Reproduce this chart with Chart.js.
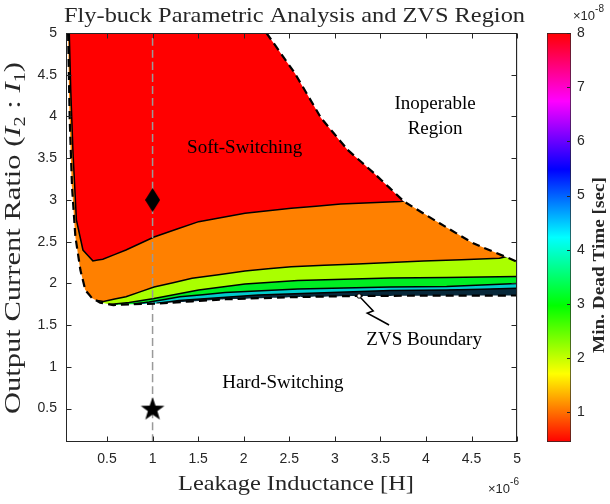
<!DOCTYPE html>
<html>
<head>
<meta charset="utf-8">
<script src="https://cdn.jsdelivr.net/npm/chart.js@4.4.1/dist/chart.umd.min.js"></script>
<style>
  body { margin: 0; background: #fff; }
  #wrap { position: relative; width: 610px; height: 504px; }
  #main { position: absolute; left: 0; top: 0; }
  #bar { position: absolute; left: 530px; top: 0; }
</style>
</head>
<body>
<div id="wrap">
  <canvas id="main" width="530" height="504"></canvas>
  <canvas id="bar" width="80" height="504"></canvas>
</div>
<script>
// x in units of 1e-6 H, y = I2:I1, colour scale in units of 1e-8 s
const xTicks = [0.5, 1, 1.5, 2, 2.5, 3, 3.5, 4, 4.5, 5];
const yTicks = [0.5, 1, 1.5, 2, 2.5, 3, 3.5, 4, 4.5, 5];
const cbTicks = [1, 2, 3, 4, 5, 6, 7, 8];
const cbMin = 0.45, cbMax = 8;

// ZVS boundary (left + bottom dashed curve)
const zvsX = [0.073, 0.091, 0.116, 0.153, 0.208, 0.262, 0.334, 0.425, 0.57, 0.75, 1.07, 1.8, 2.52, 3.25, 3.97, 5.0];
const zvsY = [5.0, 3.96, 3.16, 2.56, 2.16, 1.92, 1.825, 1.77, 1.74, 1.75, 1.76, 1.81, 1.835, 1.85, 1.853, 1.855];
// inoperable boundary (upper right dashed curve)
const inopX = [2.25, 2.56, 2.85, 3.14, 3.43, 3.76, 4.15, 4.52, 5.0];
const inopY = [5.0, 4.52, 3.98, 3.60, 3.32, 2.98, 2.72, 2.48, 2.26];

// dead time contour lines, top to bottom
const c1X = [0.086, 0.102, 0.127, 0.164, 0.236, 0.345, 0.454, 0.708, 1.016, 1.506, 2.014, 2.521, 3.065, 3.718];
const c1Y = [5.0, 4.32, 3.56, 2.76, 2.40, 2.27, 2.29, 2.40, 2.556, 2.74, 2.84, 2.90, 2.95, 2.98];
const c2X = [0.396, 0.461, 0.708, 1.016, 1.433, 2.014, 2.521, 3.247, 3.973, 4.806];
const c2Y = [1.795, 1.783, 1.841, 1.957, 2.061, 2.149, 2.200, 2.233, 2.268, 2.301];
const c3X = [0.527, 0.744, 1.016, 1.506, 2.014, 2.594, 3.606, 4.226, 5.0];
const c3Y = [1.747, 1.771, 1.819, 1.921, 1.993, 2.035, 2.065, 2.070, 2.083];
const c4X = [0.80, 0.962, 1.3, 1.797, 2.594, 3.606, 4.226, 5.0];
const c4Y = [1.753, 1.777, 1.84, 1.891, 1.933, 1.957, 1.963, 1.999];
const c5X = [1.05, 1.288, 2.159, 3.606, 4.226, 5.0];
const c5Y = [1.762, 1.795, 1.861, 1.915, 1.921, 1.941];

// markers and the pointer to the boundary
const diamondPt = [{ x: 1, y: 3 }];
const starPt = [{ x: 1, y: 0.5 }];
const arrowX = [3.266, 3.421, 3.356, 3.595];
const arrowY = [1.849, 1.669, 1.645, 1.502];

const notes = [
  { text: "Soft-Switching", x: 2.01, y: 3.62 },
  { text: "Inoperable", x: 4.10, y: 4.15 },
  { text: "Region", x: 4.10, y: 3.85 },
  { text: "ZVS Boundary", x: 3.98, y: 1.32 },
  { text: "Hard-Switching", x: 2.43, y: 0.81 },
];

const X_MIN = 0.05, X_MAX = 5, Y_MIN = 0.1, Y_MAX = 5;
const SERIF = '"Liberation Serif", "Times New Roman", serif';
const SANS = '"Liberation Sans", Arial, sans-serif';

function pts(xs, ys) {
  return xs.map((x, i) => ({ x, y: ys[i] }));
}

// polygon covering everything above a contour line
function bandShape(xs, ys) {
  const line = pts(xs, ys);
  const a = line[0], b = line[line.length - 1];
  const head = a.y >= Y_MAX
    ? [{ x: X_MIN - 1, y: Y_MAX + 1 }, { x: a.x, y: Y_MAX + 1 }]
    : [{ x: X_MIN - 1, y: Y_MAX + 1 }, { x: X_MIN - 1, y: a.y - 0.4 }, { x: a.x - 0.08, y: a.y - 0.4 }];
  const tail = [{ x: X_MAX + 1, y: b.y + (b.x < X_MAX ? 0.3 : 0) }, { x: X_MAX + 1, y: Y_MAX + 1 }];
  return head.concat(line, tail);
}

const baseRect = [
  { x: X_MIN - 1, y: Y_MIN - 1 }, { x: X_MIN - 1, y: Y_MAX + 1 },
  { x: X_MAX + 1, y: Y_MAX + 1 }, { x: X_MAX + 1, y: Y_MIN - 1 },
];
const lowMask = [{ x: X_MIN - 1, y: Y_MIN - 1 }, { x: X_MIN - 1, y: Y_MAX + 1 }, { x: zvsX[0], y: Y_MAX + 1 }]
  .concat(pts(zvsX, zvsY), [{ x: X_MAX + 1, y: zvsY[zvsY.length - 1] }, { x: X_MAX + 1, y: Y_MIN - 1 }]);
const highMask = [{ x: inopX[0], y: Y_MAX + 1 }]
  .concat(pts(inopX, inopY), [{ x: X_MAX + 1, y: inopY[inopY.length - 1] - 0.1 }, { x: X_MAX + 1, y: Y_MAX + 1 }]);

// marker images
function diamondImg() {
  const c = document.createElement("canvas");
  c.width = 15; c.height = 24;
  const g = c.getContext("2d");
  g.beginPath();
  g.moveTo(7.5, 0); g.lineTo(15, 12); g.lineTo(7.5, 24); g.lineTo(0, 12);
  g.closePath();
  g.fillStyle = "#000";
  g.fill();
  return c;
}
function starImg() {
  const c = document.createElement("canvas");
  c.width = 26; c.height = 26;
  const g = c.getContext("2d");
  g.beginPath();
  for (let i = 0; i < 10; i++) {
    const r = i % 2 ? 5 : 12.5;
    const t = -Math.PI / 2 + i * Math.PI / 5;
    g.lineTo(13 + r * Math.cos(t), 14 + r * Math.sin(t));
  }
  g.closePath();
  g.fillStyle = "#000";
  g.fill();
  return c;
}

function polyFill(data, color, order, border) {
  return {
    data, order, fill: "shape", backgroundColor: color,
    borderColor: "#000", borderWidth: border ? 1.5 : 0,
  };
}

// text squeezed/stretched to a given width
function fitText(ctx, text, x, y, font, width) {
  ctx.font = font;
  const w = ctx.measureText(text).width;
  ctx.save();
  ctx.translate(x, y);
  ctx.scale(width / w, 1);
  ctx.textAlign = "center";
  ctx.fillText(text, 0, 0);
  ctx.restore();
}

function drawExp(ctx, base, exp, x, y) {
  ctx.textAlign = "left";
  ctx.font = "13px " + SANS;
  ctx.fillText(base, x, y);
  const w = ctx.measureText(base).width;
  ctx.font = "10px " + SANS;
  ctx.fillText(exp, x + w, y - 8);
}

const decor = {
  id: "decor",
  afterDraw(chart) {
    const { ctx, chartArea: a, scales: { x, y } } = chart;
    ctx.save();
    ctx.strokeStyle = "#262626";
    ctx.lineWidth = 1;
    const L = Math.round(a.left) + 0.5, R = Math.round(a.right) - 0.5;
    const T = Math.round(a.top) + 0.5, B = Math.round(a.bottom) - 0.5;
    ctx.strokeRect(L, T, R - L, B - T);
    ctx.beginPath();
    xTicks.forEach(v => {
      const p = Math.round(x.getPixelForValue(v)) + 0.5;
      ctx.moveTo(p, B); ctx.lineTo(p, B - 5);
      ctx.moveTo(p, T); ctx.lineTo(p, T + 5);
    });
    yTicks.forEach(v => {
      const p = Math.round(y.getPixelForValue(v)) + 0.5;
      ctx.moveTo(L, p); ctx.lineTo(L + 5, p);
      ctx.moveTo(R, p); ctx.lineTo(R - 5, p);
    });
    ctx.stroke();

    ctx.fillStyle = "#000";
    ctx.font = "19px " + SERIF;
    ctx.textAlign = "center";
    ctx.textBaseline = "middle";
    notes.forEach(n => ctx.fillText(n.text, x.getPixelForValue(n.x), y.getPixelForValue(n.y)));

    ctx.textBaseline = "alphabetic";
    ctx.fillStyle = "#262626";
    fitText(ctx, "Fly-buck Parametric Analysis and ZVS Region", 294.5, 22, "22px " + SERIF, 461);
    fitText(ctx, "Leakage Inductance [H]", 296, 490, "22px " + SERIF, 236);
    drawExp(ctx, "\u00d710", "-6", 488, 493);

    // rotated y label with italic currents and subscripts
    const parts = [
      ["Output Current Ratio (", "24px " + SERIF, 0],
      ["I", "italic 24px " + SERIF, 0],
      ["2", "16px " + SERIF, 5],
      [" : ", "24px " + SERIF, 0],
      ["I", "italic 24px " + SERIF, 0],
      ["1", "16px " + SERIF, 5],
      [")", "24px " + SERIF, 0],
    ];
    let total = 0;
    parts.forEach(p => { ctx.font = p[1]; total += ctx.measureText(p[0]).width; });
    ctx.save();
    ctx.translate(20, 238);
    ctx.rotate(-Math.PI / 2);
    ctx.scale(352 / total, 1);
    ctx.textAlign = "left";
    let cur = -total / 2;
    parts.forEach(p => {
      ctx.font = p[1];
      ctx.fillText(p[0], cur, p[2]);
      cur += ctx.measureText(p[0]).width;
    });
    ctx.restore();
    ctx.restore();
  },
};

const tickFont = { family: "Liberation Sans", size: 14 };
const gridColor = "rgba(38,38,38,0.15)";

new Chart(document.getElementById("main"), {
  type: "line",
  data: {
    datasets: [
      polyFill(baseRect, "#07283a", 100, false),
      polyFill(bandShape(c5X, c5Y), "#00cccc", 90, true),
      polyFill(bandShape(c4X, c4Y), "#00ee22", 80, true),
      polyFill(bandShape(c3X, c3Y), "#aaff00", 70, true),
      polyFill(bandShape(c2X, c2Y), "#ff8000", 60, true),
      polyFill(bandShape(c1X, c1Y), "#ff0000", 50, true),
      polyFill(lowMask, "#ffffff", 40, false),
      polyFill(highMask, "#ffffff", 39, false),
      {
        data: [{ x: 1, y: Y_MIN }, { x: 1, y: Y_MAX }], order: 30,
        borderColor: "#9a9a9a", borderWidth: 1.5, borderDash: [8, 4], fill: false,
      },
      {
        data: pts(zvsX, zvsY), order: 20,
        borderColor: "#000", borderWidth: 2.2, borderDash: [8, 5], fill: false,
      },
      {
        data: pts(inopX, inopY), order: 19,
        borderColor: "#000", borderWidth: 2.2, borderDash: [8, 5], fill: false,
      },
      {
        data: pts(arrowX, arrowY), order: 15,
        borderColor: "#000", borderWidth: 1.5, fill: false,
        pointRadius: [2.2, 0, 0, 0], pointBackgroundColor: "#fff",
        pointBorderColor: "#000", pointBorderWidth: 1,
      },
      { data: diamondPt, order: 5, showLine: false, pointRadius: 8, pointStyle: diamondImg() },
      { data: starPt, order: 5, showLine: false, pointRadius: 8, pointStyle: starImg() },
    ],
  },
  options: {
    responsive: false,
    animation: false,
    events: [],
    layout: { padding: { left: 0, right: 9, top: 33, bottom: 0 } },
    elements: { point: { radius: 0, hoverRadius: 0 }, line: { tension: 0.0001 } },
    plugins: { legend: { display: false }, tooltip: { enabled: false }, title: { display: false } },
    scales: {
      x: {
        type: "linear", min: X_MIN, max: X_MAX, z: 1,
        afterBuildTicks: s => { s.ticks = xTicks.map(v => ({ value: v })); },
        afterFit: s => { s.height = 62; },
        grid: { color: gridColor, drawTicks: false },
        border: { display: false },
        ticks: { padding: 9, color: "#262626", font: tickFont, callback: v => String(v), maxRotation: 0 },
      },
      y: {
        type: "linear", min: Y_MIN, max: Y_MAX, z: 1,
        afterBuildTicks: s => { s.ticks = yTicks.map(v => ({ value: v })); },
        afterFit: s => { s.width = 66; },
        grid: { color: gridColor, drawTicks: false },
        border: { display: false },
        ticks: { padding: 9, color: "#262626", font: tickFont, callback: v => String(v) },
      },
    },
  },
  plugins: [decor],
});

// colour bar
function hsvGradient(c) {
  const chart = c.chart;
  if (!chart.chartArea) return "#f00";
  const ys = chart.scales.y;
  const g = chart.ctx.createLinearGradient(0, ys.getPixelForValue(cbMin), 0, ys.getPixelForValue(cbMax));
  ["#ff0000", "#ffff00", "#00ff00", "#00ffff", "#0000ff", "#ff00ff", "#ff0000"]
    .forEach((col, i) => g.addColorStop(i / 6, col));
  return g;
}

const cbDecor = {
  id: "cbDecor",
  afterDraw(chart) {
    const { ctx, chartArea: a, scales: { y } } = chart;
    ctx.save();
    ctx.strokeStyle = "#262626";
    ctx.lineWidth = 1;
    ctx.beginPath();
    cbTicks.forEach(v => {
      const p = Math.round(y.getPixelForValue(v)) + 0.5;
      ctx.moveTo(a.right - 1, p); ctx.lineTo(a.right - 4, p);
    });
    ctx.stroke();
    ctx.fillStyle = "#262626";
    drawExp(ctx, "\u00d710", "-8", 43, 20);
    ctx.save();
    ctx.translate(74, 265);
    ctx.rotate(-Math.PI / 2);
    fitText(ctx, "Min. Dead Time [sec]", 0, 0, "bold 17px " + SERIF, 176);
    ctx.restore();
    ctx.restore();
  },
};

new Chart(document.getElementById("bar"), {
  type: "bar",
  data: {
    labels: [""],
    datasets: [{
      data: [[cbMin, cbMax]], backgroundColor: hsvGradient,
      borderColor: "#262626", borderWidth: 1, borderSkipped: false,
      barPercentage: 1, categoryPercentage: 1,
    }],
  },
  options: {
    responsive: false,
    animation: false,
    events: [],
    layout: { padding: { left: 17, right: 0, top: 33, bottom: 62 } },
    plugins: { legend: { display: false }, tooltip: { enabled: false } },
    scales: {
      x: { display: false },
      y: {
        position: "right", min: cbMin, max: cbMax,
        afterBuildTicks: s => { s.ticks = cbTicks.map(v => ({ value: v })); },
        afterFit: s => { s.width = 39; },
        grid: { display: false, drawTicks: false },
        border: { display: false },
        ticks: { padding: 6, color: "#262626", font: tickFont },
      },
    },
  },
  plugins: [cbDecor],
});
</script>
</body>
</html>
